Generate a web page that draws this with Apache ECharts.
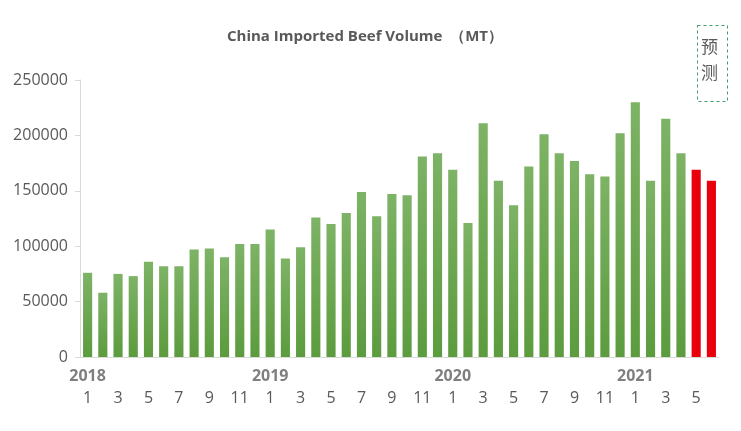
<!DOCTYPE html>
<html><head><meta charset="utf-8">
<script src="https://cdn.jsdelivr.net/npm/echarts@6/dist/echarts.min.js"></script>
<style>html,body{margin:0;padding:0;background:#fff}#c{width:741px;height:431px}</style>
</head><body><div id="c"></div>
<script>
const years = [2018, 2019, 2020, 2021];
const months = [1,2,3,4,5,6,7,8,9,10,11,12,1,2,3,4,5,6,7,8,9,10,11,12,1,2,3,4,5,6,7,8,9,10,11,12,1,2,3,4,5,6];
const actual = [76000,58000,75000,73000,86000,82000,82000,97000,98000,90000,102000,102000,
115000,89000,99000,126000,120000,130000,149000,127000,147000,146000,181000,184000,
169000,121000,211000,159000,137000,172000,201000,184000,177000,165000,163000,202000,
230000,159000,215000,184000];
const forecast = [169000,159000];
const yTicks = [0,50000,100000,150000,200000,250000];

const cats = months.map((m,i)=>i);
const data = actual.map(v=>({value:v})).concat(forecast.map(v=>({value:v,itemStyle:{color:'#e8000b'}})));
let yi = 0;
const chart = echarts.init(document.getElementById('c'));
chart.setOption({
  animation:false,
  title:{text:'China Imported Beef Volume  （MT）',left:360,top:24,textAlign:'center',
    textStyle:{fontSize:15,fontWeight:'bold',color:'#595959',fontFamily:'Open Sans'}},
  grid:{left:80,right:22,top:80,bottom:74},
  xAxis:{type:'category',data:cats,
    axisLine:{lineStyle:{color:'#d9d9d9'}},axisTick:{show:false},
    axisLabel:{interval:1,margin:8,fontSize:16,color:'#595959',fontFamily:'Open Sans',lineHeight:22,
      formatter:(v)=>{const i=+v;const m=months[i];
        if(m===1){return '{y|'+years[Math.floor(i/12)]+'}\n'+m;}return ' \n'+m;},
      rich:{y:{fontSize:16,fontWeight:'bold',color:'#7f7f7f',fontFamily:'Open Sans'}}}},
  yAxis:{type:'value',min:0,max:250000,interval:50000,
    axisLine:{show:true,lineStyle:{color:'#d9d9d9'}},axisTick:{show:true,lineStyle:{color:'#d9d9d9'}},
    splitLine:{show:false},
    axisLabel:{fontSize:16,color:'#595959',margin:12,fontFamily:'Open Sans',
      formatter:(v)=>yTicks.includes(v)?String(v):''}},
  series:[{type:'bar',data:data,barCategoryGap:'40%',
    itemStyle:{color:new echarts.graphic.LinearGradient(0,0,0,1,[{offset:0,color:'#7db365'},{offset:1,color:'#5c9b3e'}])}}],
  graphic:[{type:'rect',left:695,top:23,shape:{width:30,height:76},
      style:{fill:'none',stroke:'#3f9f6a',lineWidth:1,lineDash:[3,3]}},
    {type:'text',left:701,top:34,style:{text:'预\n测',fontSize:17,lineHeight:26,fill:'#595959',fontFamily:'Noto Sans CJK SC'}}]
});
</script></body></html>
